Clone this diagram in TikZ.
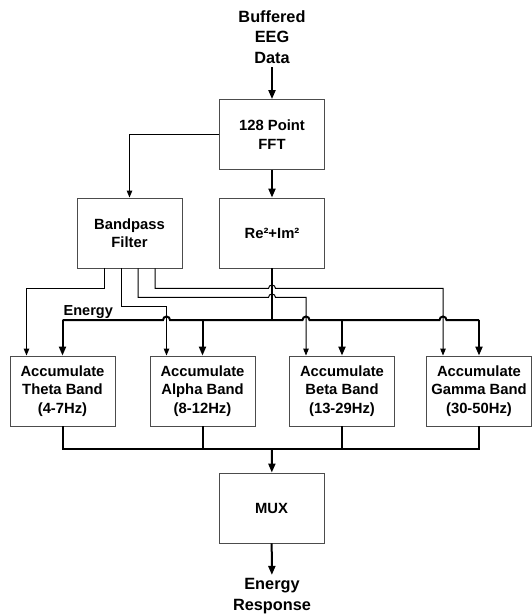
\documentclass[tikz,border=0pt]{standalone}
\usepackage{fontspec}
\setmainfont{Liberation Sans}
\usetikzlibrary{arrows.meta,calc}

\begin{document}
\begin{tikzpicture}[
    x=1pt, y=-1pt,
    font=\fontsize{14.8}{18.5}\selectfont\bfseries,
    blocco/.style={draw=gray!60!black, line width=0.9pt, minimum width=105pt,
      minimum height=70pt, align=center, inner sep=0pt},
    sottile/.style={line width=1pt, -{Triangle[length=7pt,width=5.5pt]}},
    spesso/.style={line width=2pt, -{Triangle[length=9pt,width=7pt]}},
    bus/.style={line width=2pt},
    etichetta/.style={align=center, font=\fontsize{16.3}{20.5}\selectfont\bfseries},
  ]
  \useasboundingbox (0,0) rectangle (532,614);

  % --- ingresso e FFT -------------------------------------------------
  \node[etichetta] (ingresso) at (272,37) {Buffered\\EEG\\Data};
  \node[blocco] (fft) at (272,134.5) {128 Point\\FFT};
  \node[blocco] (bpf) at (129.5,233) {Bandpass\\Filter};
  \node[blocco] (re)  at (272,233) {Re²+Im²};

  \draw[spesso] (ingresso) -- (fft);
  \draw[spesso] (fft) -- (re);
  \draw[sottile] (fft.west) -| (bpf.north);

  % --- i quattro accumulatori -----------------------------------------
  \node[blocco] (theta) at (62.5,391) {Accumulate\\Theta Band\\(4-7Hz)};
  \node[blocco] (alpha) at (202.5,391) {Accumulate\\Alpha Band\\(8-12Hz)};
  \node[blocco] (beta)  at (342,391) {Accumulate\\Beta Band\\(13-29Hz)};
  \node[blocco] (gamma) at (479,391) {Accumulate\\Gamma Band\\(30-50Hz)};

  \coordinate (energia) at (272,320);
  \foreach \b in {theta,alpha,beta,gamma}{%
    \coordinate (\b-in) at ($(\b.north)+(-36,0)$);
    \draw[spesso] (\b.north |- energia) -- (\b.north);
  }

  % --- bus dell'energia, con i salti sulle linee sottili --------------
  \draw[bus] (re.south) -- (energia);
  \draw[bus] (theta.north |- energia)
    -- ($(alpha-in |- energia)+(-3.5,0)$) arc[start angle=180, end angle=360, radius=3.5]
    -- ($(beta-in |- energia)+(-3.5,0)$) arc[start angle=180, end angle=360, radius=3.5]
    -- ($(gamma-in |- energia)+(-3.5,0)$) arc[start angle=180, end angle=360, radius=3.5]
    -- (gamma.north |- energia);
  \node[anchor=south west, inner sep=1pt, font=\fontsize{14.5}{17}\selectfont\bfseries]
    (lbl) at (theta.north |- energia) {Energy};

  % --- uscite del filtro passa-banda ----------------------------------
  \coordinate (u1) at ($(bpf.south)+(-25,0)$);
  \coordinate (u2) at ($(bpf.south)+(-8,0)$);
  \coordinate (u3) at ($(bpf.south)+(8.5,0)$);
  \coordinate (u4) at ($(bpf.south)+(25.5,0)$);

  \draw[sottile] (u1) -- ++(0,20) -| (theta-in);
  \draw[sottile] (u2) -- ++(0,38) -| (alpha-in);
  \draw[sottile] (u3) -- ++(0,29) coordinate (k3)
    -- ($(k3 -| re.south)+(-3.5,0)$) arc[start angle=180, end angle=360, radius=3.5]
    -| (beta-in);
  \draw[sottile] (u4) -- ++(0,20) coordinate (k4)
    -- ($(k4 -| re.south)+(-3.5,0)$) arc[start angle=180, end angle=360, radius=3.5]
    -| (gamma-in);

  % --- raccolta e MUX -------------------------------------------------
  \node[blocco] (mux) at (271.5,508) {MUX};
  \node[etichetta] (uscita) at (272,596) {Energy\\Response};

  \coordinate (raccolta) at (272,449);
  \draw[bus] (theta.south) |- (raccolta) -| (gamma.south);
  \draw[bus] (alpha.south) -- (alpha.south |- raccolta);
  \draw[bus] (beta.south) -- (beta.south |- raccolta);
  \draw[spesso] (raccolta) -- (mux);
  \draw[spesso] (mux) -- (uscita);

\end{tikzpicture}
\end{document}
